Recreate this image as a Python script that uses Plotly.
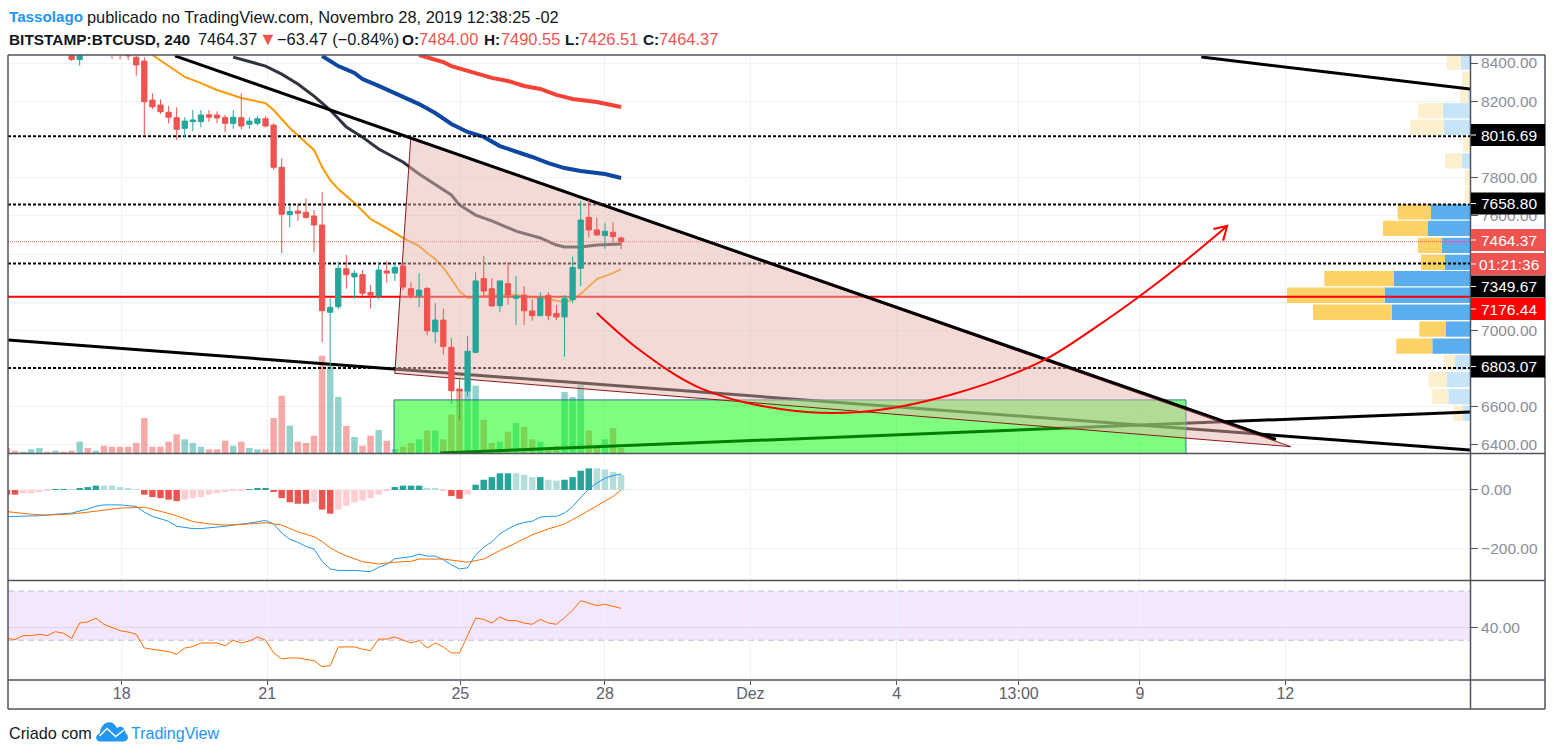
# BTCUSD 4h chart with MAs, volume profile, MACD and RSI panes
import plotly.graph_objects as go

W, H = 1554, 755

# candles, one value per bar starting at bar -6
bars = list(range(-6, 63))
opens = [8470, 8418, 8480, 8480, 8480, 8470, 8470, 8450, 8430, 8410, 8206, 8180, 8142, 8114, 8058, 8093, 8093,
         8129, 8128, 8114, 8084, 8114, 8079, 8084, 8108, 8075, 7854, 7606, 7625, 7618, 7599, 7552, 7095, 7124,
         7323, 7280, 7292, 7199, 7180, 7311, 7300, 7337, 7218, 7182, 7220, 6993, 7054, 6911, 6693, 6683, 6885,
         7271, 7218, 7129, 7245, 7168, 7185, 7102, 7077, 7184, 7089, 7070, 7161, 7325, 7592, 7526, 7496, 7514, 7484]
highs = [8490, 8480, 8500, 8500, 8500, 8490, 8490, 8470, 8460, 8430, 8241, 8210, 8175, 8168, 8116, 8154, 8154,
         8154, 8147, 8129, 8154, 8241, 8116, 8122, 8122, 8084, 7901, 7651, 7662, 7692, 7630, 7725, 7168, 7360,
         7395, 7316, 7316, 7238, 7357, 7363, 7357, 7342, 7252, 7299, 7226, 7142, 7114, 6959, 6745, 6971, 7304,
         7389, 7273, 7259, 7357, 7285, 7232, 7163, 7199, 7199, 7133, 7185, 7386, 7678, 7683, 7592, 7561, 7566, 7490.55]
lows = [8410, 8386, 8450, 8450, 8450, 8421, 8419, 8416, 8334, 8021, 8159, 8133, 8084, 7997, 8011, 8044, 8063,
        8091, 8084, 8037, 8056, 8053, 8056, 8072, 8063, 7840, 7404, 7540, 7573, 7583, 7409, 6938, 6796, 7110,
        7218, 7168, 7180, 7114, 7161, 7250, 7259, 7211, 7166, 7121, 6974, 6932, 6873, 6618, 6527, 6656, 6880,
        7176, 7124, 7095, 7134, 7028, 7028, 7051, 7075, 7054, 7054, 6862, 7142, 7232, 7487, 7494, 7428, 7461, 7426.51]
closes = [8419, 8465, 8470, 8470, 8470, 8460, 8460, 8437, 8390, 8197, 8171, 8145, 8116, 8053, 8096, 8102, 8128,
          8116, 8112, 8084, 8116, 8070, 8096, 8108, 8070, 7854, 7608, 7623, 7613, 7592, 7552, 7103, 7121, 7325,
          7292, 7299, 7194, 7184, 7316, 7300, 7330, 7227, 7184, 7211, 6998, 7054, 6915, 6684, 6683, 6891, 7259,
          7206, 7128, 7259, 7185, 7180, 7103, 7077, 7168, 7077, 7070, 7166, 7330, 7578, 7526, 7500, 7519, 7491, 7464.37]

# moving averages: bar number and price
ma_orange_x = [4, 8, 10, 12, 15, 18, 19, 21, 24, 25, 26, 27, 29, 31, 33, 35, 37, 38, 39, 40, 41, 42, 43, 44, 46,
               49, 52, 55, 56, 57, 59, 61, 62]
ma_orange_y = [8442, 8327, 8295, 8259, 8217, 8190, 8154, 8060, 7945, 7856, 7787, 7740, 7667, 7583, 7536, 7484,
               7442, 7405, 7374, 7327, 7269, 7206, 7170, 7175, 7185, 7185, 7170, 7149, 7159, 7191, 7269, 7300, 7321]
ma_dark_x = [14, 18, 20, 22, 24, 26, 28, 30, 32, 35, 37, 39, 41, 42, 44, 46, 49, 52, 54, 55, 57, 59, 62]
ma_dark_y = [8431, 8384, 8342, 8290, 8227, 8154, 8065, 8012, 7950, 7882, 7819, 7766, 7709, 7657, 7604, 7573,
             7520, 7484, 7447, 7437, 7437, 7447, 7452]
ma_blue_x = [25, 27, 29, 30, 32, 35, 37, 39, 41, 43, 45, 47, 49, 51, 53, 55, 57, 60, 62]
ma_blue_y = [8437, 8384, 8348, 8316, 8280, 8222, 8185, 8138, 8081, 8039, 8013, 7965, 7939, 7908, 7876, 7850,
             7835, 7819, 7798]
ma_red_x = [37, 38, 40, 41, 44, 46, 48, 50, 52, 54, 56, 59, 62]
ma_red_y = [8442, 8431, 8405, 8384, 8348, 8322, 8306, 8280, 8264, 8233, 8212, 8196, 8170]

# volume per bar, starting at bar -14
vol_bars = list(range(-14, 63))
volume = [5, 2.3, 1.3, 3.7, 5, 1.3, 2.3, 1.3, 2.3, 11.3, 5, 2.3, 7.3, 6.3, 6.3, 6.3, 10, 35, 6.3, 6.3, 11.3, 18.7,
          13.7, 10, 6.3, 3.7, 3.7, 12.3, 7.3, 11.3, 5, 3.7, 3.7, 35, 57.3, 27.3, 11.3, 10, 17.3, 97.3, 86.7, 56, 27,
          16, 7.3, 17.3, 23, 12.3, 4, 6.3, 10, 13.7, 22.3, 22.3, 13.7, 38.3, 64, 63, 67.3, 33.3, 10, 11.3, 21.3, 30,
          26.3, 13.7, 11.3, 6.3, 7.3, 61, 56, 68.3, 22.3, 5, 13.7, 25, 5]
vol_green = [-12, -11, -10, -8, -5, -3, 8, 9, 10, 14, 16, 17, 21, 26, 27, 29, 32, 34, 37, 39, 43, 44, 47, 49, 52, 55,
             56, 57, 60]

# macd pane
macd_hist = [-16, -16, -11, -11, -7, -1, 3, 3, 2, 7, 10, 15, 15, 15, 10, 7, 2, -16, -24, -28, -33, -38, -33, -28, -24,
             -16, -11, -7, -1, -1, 2, 7, 7, -7, -28, -42, -47, -47, -42, -67, -81, -67, -54, -42, -36, -28, -16, -1,
             10, 15, 15, 15, 6, 6, -1, -21, -30, -16, 18, 35, 44, 57, 57, 57, 52, 44, 44, 35, 32, 35, 44, 66, 74, 74,
             70, 62, 52]
macd_strong = [-14, -13, -8, -7, -5, -4, -3, 3, 4, 5, 6, 7, 16, 17, 18, 19, 20, 21, 22, 23, 25, 26, 34, 35, 36, 37,
               41, 42, 44, 45, 46, 47, 48, 52, 55, 56, 57, 58]
macd_x = [-14, -10, -8, -6, -4, -3, -2, 0, 2, 3, 4, 6, 7, 9, 10, 13, 16, 18, 19, 20, 21, 22, 23, 24, 25, 26, 27, 29,
          31, 32, 33, 34, 36, 37, 38, 39, 40, 41, 42, 43, 44, 45, 46, 47, 48, 49, 50, 51, 52, 53, 54, 55, 56, 57, 58,
          59, 60, 61, 62]
macd_line = [-91, -88, -83, -79, -65, -56, -51, -51, -56, -76, -90, -107, -124, -132, -132, -124, -113, -104, -116,
             -147, -168, -179, -193, -202, -244, -270, -275, -275, -279, -264, -254, -235, -228, -219, -226, -226,
             -238, -256, -270, -266, -222, -196, -177, -150, -133, -119, -111, -107, -93, -90, -90, -79, -57, -25, 3,
             24, 40, 49, 55]
signal_x = [-14, -11, -9, -6, -4, -2, 0, 3, 4, 5, 7, 9, 11, 13, 16, 18, 20, 22, 24, 25, 26, 27, 28, 30, 32, 34, 36,
            37, 40, 42, 43, 45, 47, 49, 51, 53, 55, 57, 59, 61, 62]
signal_line = [-74, -83, -86, -82, -76, -68, -62, -59, -67, -73, -88, -108, -116, -120, -116, -112, -120, -143, -160,
               -176, -198, -213, -225, -245, -253, -247, -244, -236, -236, -244, -247, -236, -207, -181, -153, -133,
               -116, -86, -54, -22, 0]

# rsi pane
rsi_bars = list(range(-14, 63))
rsi = [31.6, 30.5, 33.8, 33.8, 34.9, 33.8, 37, 35.7, 31.6, 44, 45, 48, 43, 40.5, 37.8, 36.7, 34.9, 23.7, 22.7, 21.8,
       20.8, 18.6, 23.7, 24.8, 27.8, 27.8, 27.8, 25.6, 30, 27.8, 29.4, 32.7, 30, 19.7, 14.8, 15.6, 15.6, 14.5, 13.4,
       8.6, 9.4, 24.6, 24.6, 24.6, 22.7, 21.6, 31, 31, 32.7, 30.5, 27.8, 29.7, 23.7, 27.8, 24.6, 19.7, 19.7, 33.8,
       48.1, 47, 44, 49, 46, 46, 44, 43, 47, 44, 43, 48.4, 54.4, 62.2, 60.3, 58.2, 59.2, 57.3, 56]

# volume profile rows on the right
pv_prices = [8405, 8316, 8229, 8150, 8063, 7976, 7887, 7798, 7709, 7621, 7534, 7445, 7356, 7271, 7184, 7095, 7007,
             6918, 6831, 6742, 6653, 6566]
pv_up = [9, 0, 1.7, 27.3, 26.3, 0, 8.3, 0, 0, 39, 42, 28, 25, 76, 85.3, 78.3, 24, 37.7, 15, 23.3, 21.7, 7]
pv_down = [14.3, 8, 8, 24.7, 33.7, 7, 16.7, 5.3, 5.3, 33.3, 45, 24, 24, 69.7, 97.7, 78.7, 26.7, 36, 11, 18, 16, 9.7]
pv_value_area = [9, 10, 11, 12, 13, 14, 15, 16, 17]

# horizontal levels
levels = [8016.69, 7658.80, 7349.67, 6803.07]
level_red = 7176.44
last_price = 7464.37

# drawings (bar number, price)
line_down_x = [6.8, 143.05]
line_down_y = [8437, 6429]
line_top_x = [133.8, 167.05]
line_top_y = [8431, 8264]
line_low_x = [-13.87, 167.05]
line_low_y = [6950, 6374]
line_up_x = [39.6, 167.05]
line_up_y = [6358, 6573]
triangle_x = [35.97, 34, 144.9, 35.97]
triangle_y = [8006, 6775, 6391, 8006]
box_x = [33.9, 131.9, 131.9, 33.9, 33.9]
box_y = [6636, 6636, 6300, 6300, 6636]
curve_x = [59, 64.3, 71.8, 81.7, 91.6, 102.7, 113.9, 121.3, 126.2, 131.5, 137]
curve_y = [7091, 6897, 6698, 6588, 6573, 6662, 6835, 7033, 7180, 7353, 7547]
head_x = [135.3, 137, 136.5]
head_y = [7531, 7547, 7470]

# axis ticks
x_ticks = [0.2, 18.2, 42.1, 60, 78, 96.1, 111.2, 126.2, 144.2]
x_labels = ["18", "21", "25", "28", "Dez", "4", "13:00", "9", "12"]
y_ticks = [6400, 6600, 6800, 7000, 7200, 7400, 7600, 7800, 8000, 8200, 8400]
y_labels = ["6400.00", "6600.00", "", "7000.00", "", "", "7600.00", "7800.00", "", "8200.00", "8400.00"]
x_range = [-13.87, 167.05]
price_range = [6358, 8442]
macd_range = [-307.7, 123]
rsi_range = [-2.3, 78.2]

RED, GREEN = "#ef5350", "#26a69a"
GRID = "#edf2f7"
FRAME = "#50535e"
TICK = "#8a8e99"
FONT = "Liberation Sans"
PRICE_PER_PX = 5.236
BAR_PX = 8.08


def px(x):
    return x / W


def py(y):
    return 1 - y / H


fig = go.Figure()

# base layer: volume and volume profile share the price axis
fig.add_trace(go.Bar(x=vol_bars, y=[v * PRICE_PER_PX for v in volume], base=price_range[0], width=0.8,
                     marker_color=["rgba(38,166,154,0.5)" if b in vol_green else "rgba(239,83,80,0.5)" for b in vol_bars],
                     marker_line_width=0, xaxis="x", yaxis="y"))
fig.add_trace(go.Bar(y=pv_prices, x=[v / BAR_PX for v in pv_up],
                     base=[x_range[1] - v / BAR_PX for v in pv_up], width=80, orientation="h",
                     marker_color=["#5aaeed" if i in pv_value_area else "#c8e4f8" for i in range(len(pv_up))],
                     marker_line_width=0, xaxis="x", yaxis="y"))
fig.add_trace(go.Bar(y=pv_prices, x=[v / BAR_PX for v in pv_down],
                     base=[x_range[1] - (u + v) / BAR_PX for u, v in zip(pv_up, pv_down)], width=80, orientation="h",
                     marker_color=["#fbd266" if i in pv_value_area else "#fdf0cf" for i in range(len(pv_up))],
                     marker_line_width=0, xaxis="x", yaxis="y"))

# moving averages and levels under the drawings
for xs, ys, col, lw in [(ma_orange_x, ma_orange_y, "#ff9800", 2), (ma_dark_x, ma_dark_y, "#2f3340", 3),
                        (ma_blue_x, ma_blue_y, "#0d47a1", 4), (ma_red_x, ma_red_y, "#f44336", 4)]:
    fig.add_trace(go.Scatter(x=xs, y=ys, mode="lines", line=dict(color=col, width=lw), xaxis="x", yaxis="y2"))
fig.add_trace(go.Scatter(x=x_range, y=[last_price, last_price], mode="lines",
                         line=dict(color=RED, width=1, dash="1px,1px"), xaxis="x", yaxis="y2"))
for lv in levels:
    fig.add_trace(go.Scatter(x=x_range, y=[lv, lv], mode="lines",
                             line=dict(color="#000000", width=2, dash="3px,2px"), xaxis="x", yaxis="y2"))
fig.add_trace(go.Scatter(x=x_range, y=[level_red, level_red], mode="lines",
                         line=dict(color="#ff0000", width=2), xaxis="x", yaxis="y2"))
for xs, ys in [(line_low_x, line_low_y), (line_up_x, line_up_y), (line_top_x, line_top_y)]:
    fig.add_trace(go.Scatter(x=xs, y=ys, mode="lines", line=dict(color="#000000", width=3), xaxis="x", yaxis="y2"))

# green box, triangle, then the top trend line
fig.add_trace(go.Scatter(x=box_x, y=box_y, mode="lines", fill="toself", fillcolor="rgba(0,255,0,0.5)",
                         line=dict(color="#2a6f8f", width=1), xaxis="x", yaxis="y3"))
fig.add_trace(go.Scatter(x=triangle_x, y=triangle_y, mode="lines", fill="toself", fillcolor="rgba(229,184,176,0.5)",
                         line=dict(color="#8b1a1a", width=1), xaxis="x", yaxis="y3"))
fig.add_trace(go.Scatter(x=line_down_x, y=line_down_y, mode="lines", line=dict(color="#000000", width=3),
                         xaxis="x", yaxis="y3"))

# candles and the arrow stay on top
fig.add_trace(go.Candlestick(x=bars, open=opens, high=highs, low=lows, close=closes, whiskerwidth=0,
                             increasing=dict(line=dict(color=GREEN, width=1), fillcolor=GREEN),
                             decreasing=dict(line=dict(color=RED, width=1), fillcolor=RED),
                             xaxis="x", yaxis="y4"))
fig.add_trace(go.Scatter(x=curve_x, y=curve_y, mode="lines", line=dict(color="#ff0000", width=2, shape="spline"),
                         xaxis="x", yaxis="y4"))
fig.add_trace(go.Scatter(x=head_x, y=head_y, mode="lines", line=dict(color="#ff0000", width=2), xaxis="x", yaxis="y4"))

# macd
hist_cols = []
for b, v in zip(vol_bars, macd_hist):
    if v >= 0:
        hist_cols.append(GREEN if b in macd_strong else "#b2dfdb")
    else:
        hist_cols.append(RED if b in macd_strong else "#ffcdd2")
fig.add_trace(go.Bar(x=vol_bars, y=macd_hist, width=0.8, marker_color=hist_cols, marker_line_width=0,
                     xaxis="x", yaxis="y5"))
fig.add_trace(go.Scatter(x=macd_x, y=macd_line, mode="lines", line=dict(color="#2196f3", width=1), xaxis="x", yaxis="y5"))
fig.add_trace(go.Scatter(x=signal_x, y=signal_line, mode="lines", line=dict(color="#ff6d00", width=1), xaxis="x", yaxis="y5"))

# rsi
fig.add_trace(go.Scatter(x=rsi_bars, y=rsi, mode="lines", line=dict(color="#ff6d00", width=1), xaxis="x", yaxis="y6"))

shapes = [
    dict(type="rect", xref="x", yref="y6", x0=x_range[0], x1=x_range[1], y0=30, y1=70, layer="below",
         fillcolor="#f4e6fd", line_width=0),
    dict(type="line", xref="x", yref="y6", x0=x_range[0], x1=x_range[1], y0=30, y1=30, layer="below",
         line=dict(color="#c9b9d2", width=1, dash="6px,4px")),
    dict(type="line", xref="x", yref="y6", x0=x_range[0], x1=x_range[1], y0=70, y1=70, layer="below",
         line=dict(color="#c9b9d2", width=1, dash="6px,4px")),
]


def frame_line(x0, y0, x1, y1, width=1.5):
    return dict(type="line", xref="paper", yref="paper", x0=px(x0), x1=px(x1), y0=py(y0), y1=py(y1),
                line=dict(color=FRAME, width=width))


shapes += [frame_line(8, 55, 1545, 55), frame_line(8, 709, 1545, 709), frame_line(8, 55, 8, 709),
           frame_line(1545, 55, 1545, 709), frame_line(1470.5, 55, 1470.5, 709), frame_line(8, 453.5, 1545, 453.5),
           frame_line(8, 580.5, 1545, 580.5), frame_line(8, 680, 1545, 680)]

annotations = []


def text(x, y, s, color="#131722", size=16.4, bold=False, anchor="left"):
    if bold:
        s = "<b>" + s + "</b>"
    annotations.append(dict(xref="paper", yref="paper", x=px(x), y=py(y), text=s, showarrow=False, xanchor=anchor,
                            yanchor="middle", xshift=0, font=dict(family=FONT, size=size, color=color),
                            borderpad=0))


# price labels on the axis
label_boxes = [("8016.69", 135, "#000000"), ("7658.80", 203.5, "#000000"), ("7464.37", 240, RED),
               ("01:21:36", 264, RED), ("7349.67", 286.5, "#000000"), ("7176.44", 309, "#ff0000"),
               ("6803.07", 366.5, "#000000")]
for lab, yc, col in label_boxes:
    shapes.append(dict(type="rect", xref="paper", yref="paper", x0=px(1471), x1=px(1545), y0=py(yc - 11), y1=py(yc + 11),
                       fillcolor=col, line_width=0))
    shapes.append(dict(type="line", xref="paper", yref="paper", x0=px(1471), x1=px(1476), y0=py(yc), y1=py(yc),
                       line=dict(color="#ffffff", width=1)))
    text(1508.5, yc, lab, color="#ffffff", size=15.5, anchor="center")

# header
text(8, 17, "Tassolago", color="#2196f3", bold=True, size=15.2)
text(86, 17, "publicado no TradingView.com, Novembro 28, 2019 12:38:25 -02")
text(8, 39, "BITSTAMP:BTCUSD, 240", bold=True, size=15.4)
text(197, 39, "7464.37")
text(258, 39, "▼", color=RED, size=18)
text(276, 39, "−63.47 (−0.84%)")
for x_a, lab, x_b, val in [(401, "O:", 418, "7484.00"), (483, "H:", 500, "7490.55"),
                           (564, "L:", 578, "7426.51"), (642, "C:", 658, "7464.37")]:
    text(x_a, 39, lab, bold=True, size=15.4)
    text(x_b, 39, val, color=RED)

# footer and logo
text(8, 733, "Criado com", size=16.2)
text(130, 733, "TradingView", color="#2196f3", size=16)


def path_px(points):
    return "M" + " L".join(f"{px(x):.5f},{py(y):.5f}" for x, y in points)


cloud = [(100, 741.6), (97, 740.5), (96, 737.5), (97, 735), (99.5, 733.5), (101, 728), (104, 724), (108, 722.2),
         (112, 722.5), (115, 725), (117, 728), (120, 726.6), (123, 727.5), (125, 730.5), (125.5, 733),
         (127.5, 735), (128, 738), (126.5, 740.8), (124, 741.6)]
shapes.append(dict(type="path", xref="paper", yref="paper", path=path_px(cloud) + " Z", fillcolor="#2196f3", line_width=0))
shapes.append(dict(type="path", xref="paper", yref="paper",
                   path=path_px([(99.5, 736), (107, 728.5), (115.7, 736.5), (124, 730)]),
                   line=dict(color="#ffffff", width=1.5)))

axis_font = dict(family=FONT, size=15.5, color=TICK)
fig.update_layout(
    width=W, height=H, margin=dict(l=0, r=0, t=0, b=0), paper_bgcolor="#ffffff", plot_bgcolor="#ffffff",
    showlegend=False, barmode="overlay", boxgap=0.35, boxgroupgap=0, hovermode=False, shapes=shapes, annotations=annotations,
    xaxis=dict(domain=[px(8), px(1470)], range=x_range, anchor="y6", tickmode="array", tickvals=x_ticks,
               ticktext=x_labels, ticks="outside", ticklen=4, tickcolor=FRAME, ticklabelstandoff=-5,
               tickfont=dict(family=FONT, size=16, color="#5d606b"),
               showgrid=True, gridcolor=GRID, rangeslider=dict(visible=False), zeroline=False, showline=False),
    yaxis=dict(domain=[py(453), py(55)], range=price_range, side="right", anchor="x", tickmode="array", tickvals=y_ticks,
               ticktext=y_labels, ticks="outside", ticklen=7, tickcolor=FRAME, tickfont=axis_font, gridcolor=GRID,
               zeroline=False, showline=False),
    yaxis2=dict(overlaying="y", range=price_range, visible=False),
    yaxis3=dict(overlaying="y", range=price_range, visible=False),
    yaxis4=dict(overlaying="y", range=price_range, visible=False),
    yaxis5=dict(domain=[py(580), py(454)], range=macd_range, side="right", anchor="x", tickvals=[0, -200],
                tickformat=".2f", ticks="outside", ticklen=7, tickcolor=FRAME, tickfont=axis_font, gridcolor=GRID,
                zeroline=False, showline=False),
    yaxis6=dict(domain=[py(680), py(581)], range=rsi_range, side="right", anchor="x", tickvals=[40],
                tickformat=".2f", ticks="outside", ticklen=7, tickcolor=FRAME, tickfont=axis_font, gridcolor="#dcd6ea",
                zeroline=False, showline=False),
)

# page body margin off so paper coordinates are page pixels
fig.write_html("out.html", config=dict(displayModeBar=False), post_script="document.body.style.margin='0';")
